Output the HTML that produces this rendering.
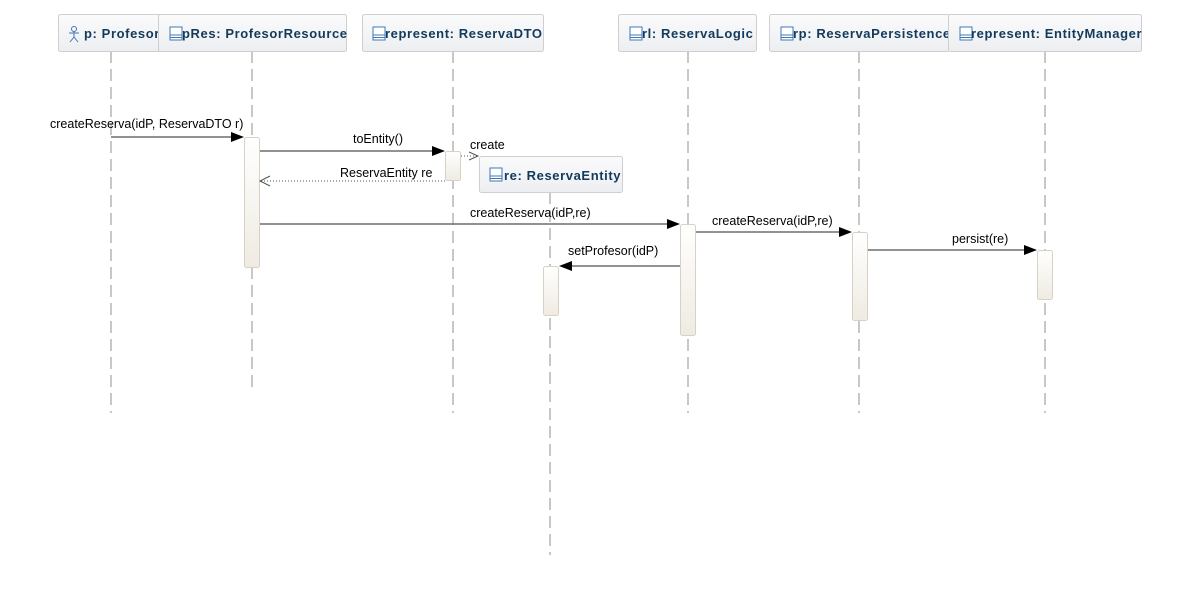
<!DOCTYPE html>
<html><head><meta charset="utf-8"><style>
html,body{margin:0;padding:0;background:#fff;}
svg text{font-family:"Liberation Sans",sans-serif;}
</style></head><body>
<svg width="1191" height="606" viewBox="0 0 1191 606" xmlns="http://www.w3.org/2000/svg">
<defs>
<linearGradient id="hg" x1="0" y1="0" x2="0" y2="1"><stop offset="0" stop-color="#fbfbfc"/><stop offset="1" stop-color="#eceef1"/></linearGradient>
<linearGradient id="ag" x1="0" y1="0" x2="0" y2="1"><stop offset="0" stop-color="#ffffff"/><stop offset="1" stop-color="#efebe2"/></linearGradient>
<g id="cls"><rect x="0" y="0" width="12" height="13" fill="#fff" stroke="#3f78b8" stroke-width="1"/><line x1="0" y1="8" x2="12" y2="8" stroke="#3f78b8"/><line x1="0" y1="10.5" x2="12" y2="10.5" stroke="#3f78b8"/></g>
</defs>
<g stroke="#c8c8c8" stroke-width="2" stroke-dasharray="12,6" fill="none">
<line x1="111" y1="51" x2="111" y2="413"/>
<line x1="252" y1="51" x2="252" y2="392"/>
<line x1="453" y1="51" x2="453" y2="413"/>
<line x1="550" y1="192" x2="550" y2="555"/>
<line x1="688" y1="51" x2="688" y2="413"/>
<line x1="859" y1="51" x2="859" y2="413"/>
<line x1="1045" y1="51" x2="1045" y2="413"/>
</g>
<g font-size="13" font-weight="bold" fill="#123a5c" letter-spacing="0.6">
<rect x="58.5" y="14.5" width="110" height="37" rx="2" stroke="#cfcfcf" fill="url(#hg)"/>
<text x="84" y="38">p: Profesor</text>
<g stroke="#3f78b8" fill="none" stroke-width="1">
<circle cx="74" cy="29" r="2.5"/><line x1="74" y1="31.5" x2="74" y2="37"/><line x1="69" y1="33" x2="79" y2="33"/><line x1="74" y1="37" x2="70" y2="42"/><line x1="74" y1="37" x2="78" y2="42"/>
</g>
<rect x="158.5" y="14.5" width="188" height="37" rx="2" stroke="#cfcfcf" fill="url(#hg)"/>
<use href="#cls" x="170" y="27"/>
<text x="182" y="38">pRes: ProfesorResource</text>
<rect x="362.5" y="14.5" width="181" height="37" rx="2" stroke="#cfcfcf" fill="url(#hg)"/>
<use href="#cls" x="373" y="27"/>
<text x="385" y="38">represent: ReservaDTO</text>
<rect x="618.5" y="14.5" width="138" height="37" rx="2" stroke="#cfcfcf" fill="url(#hg)"/>
<use href="#cls" x="630" y="27"/>
<text x="642" y="38">rl: ReservaLogic</text>
<rect x="769.5" y="14.5" width="180" height="37" rx="2" stroke="#cfcfcf" fill="url(#hg)"/>
<use href="#cls" x="781" y="27"/>
<text x="793" y="38">rp: ReservaPersistence</text>
<rect x="948.5" y="14.5" width="193" height="37" rx="2" stroke="#cfcfcf" fill="url(#hg)"/>
<use href="#cls" x="960" y="27"/>
<text x="971" y="38">represent: EntityManager</text>
<rect x="479.5" y="156.5" width="143" height="36" rx="2" stroke="#cfcfcf" fill="url(#hg)"/>
<use href="#cls" x="490" y="168"/>
<text x="504" y="180">re: ReservaEntity</text>
</g>
<g stroke="#d8d2c4" fill="url(#ag)">
<rect x="244.5" y="137.5" width="15" height="130" rx="2"/>
<rect x="445.5" y="151.5" width="15" height="29" rx="2"/>
<rect x="543.5" y="266.5" width="15" height="49" rx="2"/>
<rect x="680.5" y="224.5" width="15" height="111" rx="2"/>
<rect x="852.5" y="232.5" width="15" height="88" rx="2"/>
<rect x="1037.5" y="250.5" width="15" height="49" rx="2"/>
</g>
<g stroke="#6e6e6e" stroke-width="1.5">
<line x1="111" y1="137" x2="232" y2="137"/>
<line x1="260" y1="151" x2="433" y2="151"/>
<line x1="260" y1="224" x2="668" y2="224"/>
<line x1="696" y1="232" x2="840" y2="232"/>
<line x1="868" y1="250" x2="1025" y2="250"/>
<line x1="680" y1="266" x2="571" y2="266"/>
</g>
<g fill="#000">
<polygon points="244,137 231,132 231,142"/>
<polygon points="445,151 432,146 432,156"/>
<polygon points="680,224 667,219 667,229"/>
<polygon points="852,232 839,227 839,237"/>
<polygon points="1037,250 1024,245 1024,255"/>
<polygon points="559,266 572,261 572,271"/>
</g>
<g stroke="#555" stroke-width="1" fill="none">
<line x1="461" y1="156" x2="478" y2="156" stroke-dasharray="1,2"/>
<polyline points="469,152 478,156 469,160"/>
<line x1="445" y1="181" x2="261" y2="181" stroke-dasharray="1,2"/>
<polyline points="270,176 260,181 270,186"/>
</g>
<g font-size="12.5" fill="#000">
<text x="50" y="128">createReserva(idP, ReservaDTO r)</text>
<text x="353" y="143">toEntity()</text>
<text x="470" y="149">create</text>
<text x="340" y="177">ReservaEntity re</text>
<text x="470" y="217">createReserva(idP,re)</text>
<text x="712" y="225">createReserva(idP,re)</text>
<text x="952" y="243">persist(re)</text>
<text x="568" y="255">setProfesor(idP)</text>
</g>
</svg>
</body></html>
